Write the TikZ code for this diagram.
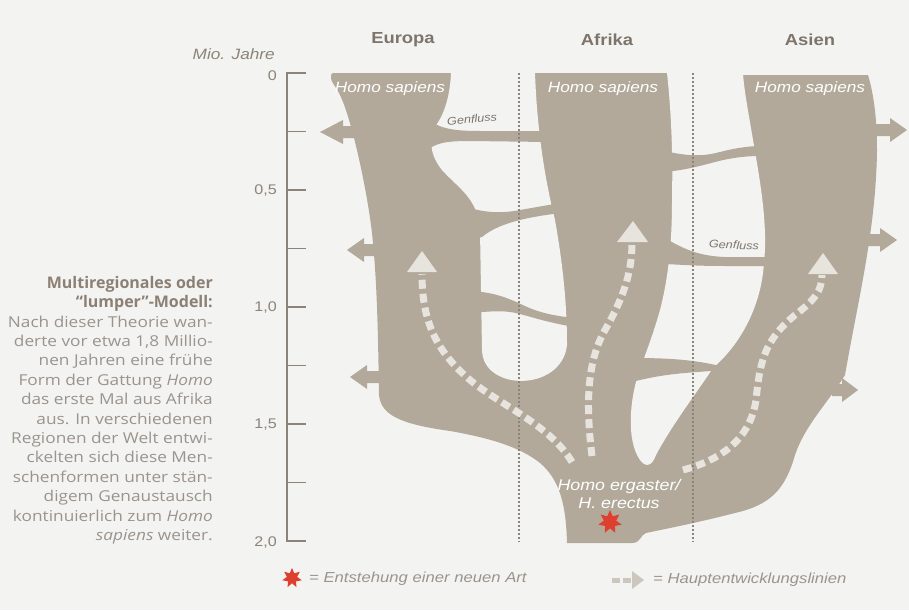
\documentclass[tikz,border=0pt]{standalone}
\usepackage{fontspec}
\setmainfont{Open Sans}[FakeStretch=1.15]
\newfontfamily\titlefont{Open Sans}
\newfontfamily\labfont{Liberation Sans}[FakeStretch=1.15]
\usetikzlibrary{shapes.geometric}
\definecolor{taupe}{RGB}{178,169,155}
\definecolor{bgcol}{RGB}{243,243,241}
\definecolor{dashlight}{RGB}{231,227,221}
\definecolor{legarrow}{RGB}{205,198,188}
\definecolor{txtgray}{RGB}{155,148,141}
\definecolor{titlegray}{RGB}{140,128,116}
\definecolor{headgray}{RGB}{125,117,108}
\definecolor{axisgray}{RGB}{140,132,122}
\definecolor{dotgray}{RGB}{140,132,122}
\definecolor{starred}{RGB}{221,64,46}
\tikzset{
  mainfill/.style={fill=taupe},
  holefill/.style={fill=bgcol},
  devline/.style={draw=dashlight, line width=7pt, dash pattern=on 9pt off 5pt},
  devhead/.style={fill=dashlight},
  region/.style={draw=dotgray, line width=1.3pt, dash pattern=on 2.4pt off 1.6pt},
  axisline/.style={draw=axisgray, line width=1.6pt},
  header/.style={font=\labfont\bfseries\fontsize{16}{20}\selectfont, text=headgray, inner sep=0},
  sapiens/.style={font=\labfont\itshape\fontsize{15}{18}\selectfont, text=white, inner sep=0},
  genfl/.style={font=\labfont\itshape\fontsize{11}{13}\selectfont, text=headgray, inner sep=0},
  numlab/.style={font=\labfont\fontsize{14}{16}\selectfont, text=axisgray, inner sep=0, anchor=east},
  legtext/.style={font=\labfont\itshape\fontsize{14.5}{16}\selectfont, text=txtgray, inner sep=0, anchor=west},
  redstar/.style={star, star points=7, star point ratio=1.9, fill=starred, inner sep=0},
}
\begin{document}
\begin{tikzpicture}[x=1pt,y=-1pt]
\fill[bgcol] (0,0) rectangle (909,610);
\useasboundingbox (0,0) rectangle (909,610);

% ---------- main silhouette ----------
\path[mainfill] (331,78) .. controls (331,73) .. (337,73) -- (700,73) -- (700,75) -- (868,75)
  .. controls (874,95) and (877,120) .. (877,150)
  .. controls (876,230) and (858,300) .. (845,375)
  .. controls (830,400) and (805,425) .. (795,455)
  .. controls (785,490) and (770,505) .. (735,513)
  .. controls (700,522) and (670,528) .. (646,533)
  .. controls (640,535) and (641,543) .. (632,543) -- (567,543)
  .. controls (566,505) and (560,480) .. (540,463)
  .. controls (520,447) and (490,438) .. (450,431)
  .. controls (400,424) and (381,415) .. (379,395)
  .. controls (378,330) and (377,280) .. (372,233)
  .. controls (367,190) and (352,120) .. (340,95)
  .. controls (335,85) and (331,82) .. (331,78) -- cycle;

% side arrows (left, Europe)
\path[mainfill] (356,126) -- (343,126) -- (343,120) -- (320,132) -- (343,144) -- (343,138) -- (356,138) -- cycle;
\path[mainfill] (380,244) -- (364,244) -- (364,238) -- (347,250) -- (364,262) -- (364,256) -- (380,256) -- cycle;
\path[mainfill] (385,371) -- (367,371) -- (367,365) -- (350,377) -- (367,389) -- (367,383) -- (385,383) -- cycle;
% side arrows (right, Asia)
\path[mainfill] (870,124) -- (890,124) -- (890,118) -- (907,130) -- (890,142) -- (890,136) -- (870,136) -- cycle;
\path[mainfill] (862,234) -- (880,234) -- (880,228) -- (897,240) -- (880,252) -- (880,246) -- (862,246) -- cycle;
\path[mainfill] (832,384) -- (842,384) -- (842,378) -- (858,390) -- (842,402) -- (842,396) -- (832,396) -- cycle;

% ---------- holes ----------
\path[holefill] (452,60) -- (451,73) .. controls (450,95) and (445,112) .. (437,124)
  .. controls (428,140) and (430,155) .. (442,170)
  .. controls (458,188) and (478,198) .. (480,230) -- (482,350)
  .. controls (483,392) and (562,392) .. (567,345)
  .. controls (567,300) and (562,260) .. (555,220)
  .. controls (545,180) and (537,130) .. (535,73) -- (535,60) -- cycle;
\path[holefill] (667,60) -- (667,73) .. controls (671,110) and (673,150) .. (672,200)
  .. controls (672,240) and (669,275) .. (660,310)
  .. controls (653,335) and (645,355) .. (638,375)
  .. controls (630,400) and (626,440) .. (640,460)
  .. controls (646,468) and (652,466) .. (656,455)
  .. controls (672,425) and (695,395) .. (713,368)
  .. controls (745,340) and (762,300) .. (764,262)
  .. controls (768,225) and (760,180) .. (753,140)
  .. controls (748,110) and (744,90) .. (743,73) -- (743,60) -- cycle;

% ---------- gene-flow bridges ----------
\path[mainfill] (425,117) .. controls (438,128) and (450,131) .. (480,131) -- (548,131) -- (548,142)
  -- (470,141) .. controls (445,141) and (435,143) .. (425,152) -- cycle;
\path[mainfill] (455,203) .. controls (480,213) and (500,214) .. (520,210) -- (560,203) -- (560,213)
  .. controls (530,217) and (500,222) .. (482,237) -- (470,240) -- cycle;
\path[mainfill] (470,291) .. controls (495,292) and (510,299) .. (525,306)
  .. controls (540,313) and (555,316) .. (575,318) -- (575,327)
  .. controls (550,323) and (535,318) .. (520,314)
  .. controls (505,310) and (495,311) .. (470,313) -- cycle;
\path[mainfill] (665,151) .. controls (690,157) and (705,156) .. (720,152)
  .. controls (735,148) and (750,146) .. (760,146) -- (760,156)
  .. controls (745,156) and (730,158) .. (715,162)
  .. controls (700,166) and (685,170) .. (665,172) -- cycle;
\path[mainfill] (665,238) .. controls (685,250) and (700,256) .. (725,257) -- (772,257) -- (772,266)
  -- (725,266) .. controls (700,266) and (685,265) .. (665,264) -- cycle;
\path[mainfill] (635,358) .. controls (670,358) and (695,360) .. (720,366) -- (720,370)
  .. controls (695,373) and (670,372) .. (632,382) -- cycle;

% ---------- region borders ----------
\coordinate (r1t) at (519,73); \coordinate (r1b) at (519,542);
\coordinate (r2t) at (693,73); \coordinate (r2b) at (693,542);
\draw[region] (r1t) -- (r1b);
\draw[region] (r2t) -- (r2b);

% ---------- main development lines ----------
\draw[devline] (572,462) .. controls (550,425) and (500,405) .. (470,380)
  .. controls (435,350) and (422,320) .. (422,274);
\path[devhead] (407,272) -- (422,251) -- (437,272) -- cycle;
\draw[devline] (592,456) .. controls (585,400) and (588,360) .. (605,330)
  .. controls (625,295) and (632,270) .. (632,243);
\path[devhead] (617,242) -- (633,221) -- (648,242) -- cycle;
\draw[devline] (683,470) .. controls (720,460) and (750,440) .. (756,400)
  .. controls (760,360) and (765,340) .. (795,315)
  .. controls (815,300) and (822,290) .. (822,275);
\path[devhead] (808,274) -- (823,253) -- (838,274) -- cycle;

% ---------- labels in the tree ----------
\node[sapiens] (hs1) at (390,89) {Homo sapiens};
\node[sapiens] (hs2) at (603,89) {Homo sapiens};
\node[sapiens] (hs3) at (810,89) {Homo sapiens};
\node[genfl, rotate=5] (gf1) at (472,119) {Genfluss};
\node[genfl, rotate=-3] (gf2) at (734,245) {Genfluss};
\node[sapiens, align=center, font=\labfont\itshape\fontsize{15.5}{18}\selectfont] (erg) at (619,494) {Homo ergaster/\\H. erectus};
\node[redstar, minimum size=24pt] (st) at (610,522) {};

% ---------- headers ----------
\node[header] (eu) at (403,40) {Europa};
\node[header] (af) at (607,40) {Afrika};
\node[header] (as) at (810,40) {Asien};

% ---------- axis ----------
\node[numlab, font=\labfont\itshape\fontsize{15}{16}\selectfont] (mio) at (275,54) {Mio. Jahre};
\draw[axisline] (306,73) -- (287,73) -- (287,541) -- (306,541);
\foreach \yy in {131.5,190,248.5,307,365.5,424,482.5} \draw[axisline] (287,\yy) -- (306,\yy);
\node[numlab] (n0) at (277,76) {0};
\node[numlab] (n1) at (277,191) {0,5};
\node[numlab] (n2) at (277,308) {1,0};
\node[numlab] (n3) at (277,425) {1,5};
\node[numlab] (n4) at (277,542) {2,0};

% ---------- legend ----------
\node[redstar, minimum size=20pt] (lst) at (292,578) {};
\node[legtext] (l1) at (309,579) {= Entstehung einer neuen Art};
\coordinate (la1) at (612,580); \coordinate (la2) at (633,580);
\draw[draw=legarrow, line width=5pt, dash pattern=on 8pt off 3pt] (la1) -- (la2);
\path[fill=legarrow] (632,571) -- (644,580) -- (632,589) -- cycle;
\node[legtext] (l2) at (653,580) {= Hauptentwicklungslinien};

% ---------- side text ----------
\node[anchor=north east, align=right, inner sep=0, text=txtgray,
      font=\fontsize{15}{19.4}\selectfont] (side) at (213,276)
{{\titlefont\bfseries\fontsize{16}{19.4}\selectfont\color{titlegray}Multiregionales oder}\\
 {\titlefont\bfseries\fontsize{16}{19.4}\selectfont\color{titlegray}“lumper”-Modell:}\\
 Nach dieser Theorie wan-\\
 derte vor etwa 1,8 Millio-\\
 nen Jahren eine frühe\\
 Form der Gattung \textit{Homo}\\
 das erste Mal aus Afrika\\
 aus. In verschiedenen\\
 Regionen der Welt entwi-\\
 ckelten sich diese Men-\\
 schenformen unter stän-\\
 digem Genaustausch\\
 kontinuierlich zum \textit{Homo}\\
 \textit{sapiens} weiter.};
\end{tikzpicture}
\end{document}
